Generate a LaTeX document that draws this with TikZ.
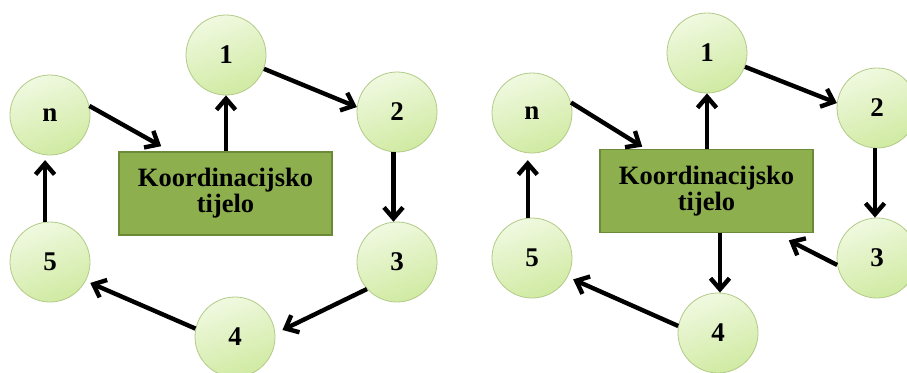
\documentclass[tikz,border=0pt]{standalone}
\usepackage{fontspec}
\setmainfont{Liberation Serif}
\usetikzlibrary{arrows.meta,calc}
\definecolor{circtop}{HTML}{F0F9E0}
\definecolor{circbot}{HTML}{D0EAA2}
\definecolor{circedge}{HTML}{B3CB88}
\definecolor{boxfill}{HTML}{8DAF4E}
\definecolor{boxedge}{HTML}{6C8938}
\tikzset{
  member/.style={circle, minimum size=80pt, inner sep=0pt, draw=circedge, line width=0.8pt,
    top color=circtop, bottom color=circbot, shading angle=20,
    font=\fontsize{27}{28}\selectfont\bfseries},
  coordbox/.style={rectangle, minimum width=213pt, minimum height=83pt, inner sep=0pt,
    fill=boxfill, draw=boxedge, line width=1.6pt, align=center,
    font=\fontsize{26.5}{26}\selectfont\bfseries},
  flow/.style={line width=4.4pt, -{Straight Barb[length=11pt,width=19pt]}},
}
\begin{document}
\begin{tikzpicture}[x=1pt,y=-1pt]
\useasboundingbox (0,0) rectangle (907,372);
\clip (0,0) rectangle (907,372);
\fill[white] (0,0) rectangle (907,372);
% ---------- left diagram ----------
\node[coordbox] (Lbox) at (225.5,193.5) {Koordinacijsko\\tijelo};
\node[member] (L1) at (226,55) {1};
\node[member] (L2) at (397,112) {2};
\node[member] (L3) at (397,262) {3};
\node[member] (L4) at (235,337) {4};
\node[member] (L5) at (50,262) {5};
\node[member] (Ln) at (50,115) {n};
\coordinate (Lin) at ($(Lbox.north west)+(43,-5)$);
\draw[flow] (Lbox.north -| L1) -- (L1.south);
\draw[flow] (L1.-20) -- (L2.173);
\draw[flow] (L2.-95) -- (L3.95);
\draw[flow, shorten >=8pt] (L3.222) -- (L4.5);
\draw[flow, shorten >=5pt] (L4.168) -- (L5.-28);
\draw[flow, shorten >=5pt] (L5.97) -- (Ln.-97);
\draw[flow] (Ln.13) -- (Lin);
% ---------- right diagram ----------
\node[coordbox] (Rbox) at (706.5,191) {Koordinacijsko\\tijelo};
\node[member] (R1) at (707,53) {1};
\node[member] (R2) at (877,108) {2};
\node[member] (R3) at (877,258) {3};
\node[member] (R4) at (718,333) {4};
\node[member] (R5) at (532,258) {5};
\node[member] (Rn) at (532,113) {n};
\coordinate (Rin) at ($(Rbox.north west)+(43,-2)$);
\coordinate (Rin3) at ($(Rbox.south east)+(-25,7)$);
\draw[flow] (Rbox.north -| R1) -- (R1.south);
\draw[flow] (R1.-20) -- (R2.173);
\draw[flow] ($(R2.south)+(-2,0)$) -- ($(R3.north)+(-2,0)$);
\draw[flow] (R3.190) -- (Rin3);
\draw[flow] ($(Rbox.south -| R4)+(2,0)$) -- ($(R4.north)+(2,0)$);
\draw[flow, shorten >=6pt] (R4.170) -- (R5.-28);
\draw[flow, shorten >=7pt] (R5.96) -- (Rn.-96);
\draw[flow] (Rn.15) -- (Rin);
\end{tikzpicture}
\end{document}
